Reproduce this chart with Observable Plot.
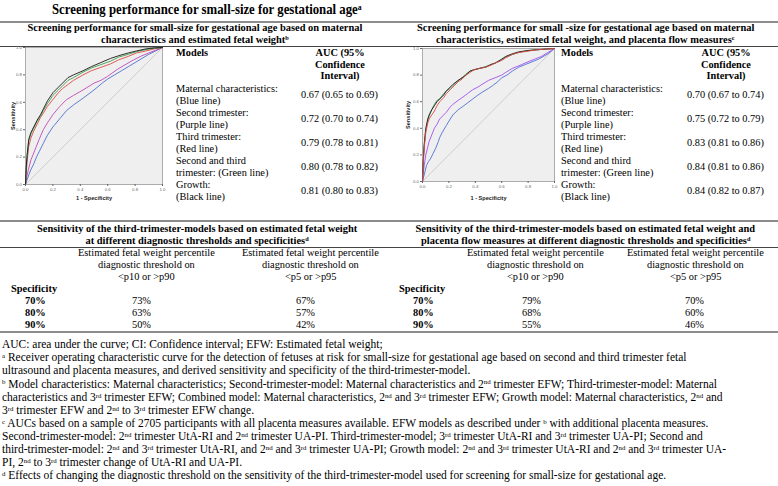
<!DOCTYPE html>
<html><head><meta charset="utf-8">
<script src="https://cdn.jsdelivr.net/npm/d3@7"></script>
<script src="https://cdn.jsdelivr.net/npm/@observablehq/plot@0.6"></script>
<style>
html,body{margin:0;padding:0;background:#fff;}
#page{position:relative;width:778px;height:486px;overflow:hidden;font-family:"Liberation Serif","Times New Roman",serif;color:#000;}
.t{position:absolute;white-space:nowrap;line-height:1;font-family:"Liberation Serif","Times New Roman",serif;transform-origin:0 50%;}
.b{font-weight:bold;}
.rule{position:absolute;left:0;width:778px;height:0;}
sup{font-size:0.6em;vertical-align:0;position:relative;top:-0.45em;line-height:0;}
.plot{position:absolute;}
.plot svg [aria-label="x-axis label"] text,.plot svg [aria-label="y-axis label"] text{font-weight:bold;font-size:5.6px;fill:#222;}
</style></head><body><div id="page"></div>
<script>
// ---------- DATA ----------
const titleText = "Screening performance for small-size for gestational age<sup>a</sup>";
const headerLeft = ["Screening performance for small-size for gestational age based on maternal",
  "characteristics and estimated fetal weight<sup>b</sup>"];
const headerRight = ["Screening performance for small -size for gestational age based on maternal",
  "characteristics, estimated fetal weight, and placenta flow measures<sup>c</sup>"];
const modelLabels = [["Maternal characteristics:","(Blue line)"],["Second trimester:","(Purple line)"],
  ["Third trimester:","(Red line)"],["Second and third","trimester: (Green line)"],["Growth:","(Black line)"]];
const aucHeader = ["AUC (95%","Confidence","Interval)"];
const aucLeft = ["0.67 (0.65 to 0.69)","0.72 (0.70 to 0.74)","0.79 (0.78 to 0.81)","0.80 (0.78 to 0.82)","0.81 (0.80 to 0.83)"];
const aucRight = ["0.70 (0.67 to 0.74)","0.75 (0.72 to 0.79)","0.83 (0.81 to 0.86)","0.84 (0.81 to 0.86)","0.84 (0.82 to 0.87)"];
const sensHeaderLeft = ["Sensitivity of the third-trimester-models based on estimated fetal weight",
  "at different diagnostic thresholds and specificities<sup>d</sup>"];
const sensHeaderRight = ["Sensitivity of the third-trimester-models based on estimated fetal weight and",
  "placenta flow measures at different diagnostic thresholds and specificities<sup>d</sup>"];
const thresholdCols = [["Estimated fetal weight percentile","diagnostic threshold on","&lt;p10 or &gt;p90"],
  ["Estimated fetal weight percentile","diagnostic threshold on","&lt;p5 or &gt;p95"]];
const specificities = ["70%","80%","90%"];
const sensLeftP10 = ["73%","63%","50%"];
const sensLeftP5 = ["67%","57%","42%"];
const sensRightP10 = ["79%","68%","55%"];
const sensRightP5 = ["70%","60%","46%"];
const footnotes = [
  "AUC: area under the curve; CI: Confidence interval; EFW: Estimated fetal weight;",
  "<sup>a</sup> Receiver operating characteristic curve for the detection of fetuses at risk for small-size for gestational age based on second and third trimester fetal",
  "ultrasound and placenta measures, and derived sensitivity and specificity of the third-trimester-model.",
  "<sup>b</sup> Model characteristics: Maternal characteristics; Second-trimester-model: Maternal characteristics and 2<sup>nd</sup> trimester EFW; Third-trimester-model: Maternal",
  "characteristics and 3<sup>rd</sup> trimester EFW; Combined model: Maternal characteristics, 2<sup>nd</sup> and 3<sup>rd</sup> trimester EFW; Growth model: Maternal characteristics, 2<sup>nd</sup> and",
  "3<sup>rd</sup> trimester EFW and 2<sup>nd</sup> to 3<sup>rd</sup> trimester EFW change.",
  "<sup>c</sup> AUCs based on a sample of 2705 participants with all placenta measures available. EFW models as described under <sup>b</sup> with additional placenta measures.",
  "Second-trimester-model: 2<sup>nd</sup> trimester UtA-RI and 2<sup>nd</sup> trimester UA-PI. Third-trimester-model; 3<sup>rd</sup> trimester UtA-RI and 3<sup>rd</sup> trimester UA-PI; Second and",
  "third-trimester-model: 2<sup>nd</sup> and 3<sup>rd</sup> trimester UtA-RI, and 2<sup>nd</sup> and 3<sup>rd</sup> trimester UA-PI; Growth model: 2<sup>nd</sup> and 3<sup>rd</sup> trimester UtA-RI and 2<sup>nd</sup> and 3<sup>rd</sup> trimester UA-",
  "PI, 2<sup>nd</sup> to 3<sup>rd</sup> trimester change of UtA-RI and UA-PI.",
  "<sup>d</sup> Effects of changing the diagnostic threshold on the sensitivity of the third-trimester-model used for screening for small-size for gestational age."
];

// ROC curves: [1 - specificity, sensitivity]
const diagonal = [0, 1];
const leftBlue = [[0,0],[0.01,0.03],[0.024,0.07],[0.04,0.11],[0.06,0.15],[0.08,0.2],[0.1,0.24],[0.13,0.3],[0.16,0.36],[0.2,0.42],[0.25,0.48],[0.3,0.54],[0.35,0.58],[0.42,0.63],[0.5,0.69],[0.56,0.74],[0.6,0.77],[0.65,0.8],[0.7,0.83],[0.75,0.86],[0.8,0.89],[0.85,0.92],[0.9,0.95],[0.95,0.975],[1,1]];
const leftPurple = [[0,0],[0.01,0.06],[0.024,0.12],[0.04,0.18],[0.06,0.23],[0.08,0.28],[0.1,0.33],[0.13,0.4],[0.16,0.45],[0.2,0.51],[0.25,0.57],[0.3,0.62],[0.35,0.65],[0.42,0.69],[0.5,0.74],[0.55,0.76],[0.6,0.79],[0.67,0.84],[0.72,0.87],[0.79,0.91],[0.85,0.94],[0.9,0.96],[0.95,0.98],[1,1]];
const leftRed = [[0,0],[0.005,0.08],[0.012,0.17],[0.024,0.28],[0.04,0.34],[0.06,0.39],[0.085,0.44],[0.11,0.49],[0.13,0.52],[0.16,0.57],[0.2,0.62],[0.24,0.67],[0.27,0.7],[0.31,0.73],[0.35,0.76],[0.42,0.8],[0.48,0.83],[0.55,0.855],[0.62,0.88],[0.68,0.91],[0.75,0.935],[0.81,0.96],[0.88,0.975],[0.94,0.99],[1,1]];
const leftGreen = [[0,0],[0.005,0.11],[0.012,0.21],[0.024,0.32],[0.04,0.37],[0.06,0.41],[0.085,0.46],[0.11,0.5],[0.13,0.54],[0.16,0.59],[0.2,0.65],[0.24,0.69],[0.27,0.72],[0.31,0.76],[0.35,0.78],[0.42,0.82],[0.48,0.85],[0.55,0.875],[0.62,0.9],[0.68,0.93],[0.75,0.95],[0.81,0.97],[0.88,0.985],[0.94,0.995],[1,1]];
const leftBlack = [[0,0],[0.005,0.12],[0.012,0.22],[0.024,0.33],[0.04,0.38],[0.06,0.42],[0.085,0.47],[0.11,0.51],[0.13,0.55],[0.16,0.61],[0.2,0.67],[0.24,0.71],[0.27,0.74],[0.31,0.78],[0.35,0.8],[0.42,0.83],[0.48,0.86],[0.55,0.89],[0.62,0.92],[0.68,0.94],[0.75,0.96],[0.81,0.975],[0.88,0.99],[0.94,0.997],[1,1]];
const rightBlue = [[0,0],[0.005,0.02],[0.013,0.05],[0.03,0.12],[0.045,0.15],[0.06,0.17],[0.08,0.21],[0.1,0.25],[0.12,0.3],[0.13,0.33],[0.15,0.37],[0.18,0.42],[0.21,0.47],[0.23,0.5],[0.27,0.54],[0.3,0.56],[0.34,0.59],[0.38,0.62],[0.42,0.65],[0.45,0.67],[0.5,0.7],[0.53,0.72],[0.57,0.75],[0.6,0.78],[0.64,0.8],[0.68,0.83],[0.73,0.86],[0.78,0.88],[0.83,0.9],[0.88,0.92],[0.95,0.96],[1,1]];
const rightPurple = [[0,0],[0.005,0.06],[0.013,0.12],[0.025,0.2],[0.04,0.26],[0.05,0.3],[0.07,0.35],[0.09,0.4],[0.11,0.43],[0.13,0.47],[0.16,0.5],[0.18,0.52],[0.21,0.56],[0.23,0.58],[0.27,0.61],[0.3,0.63],[0.34,0.66],[0.38,0.69],[0.42,0.71],[0.45,0.73],[0.5,0.76],[0.55,0.78],[0.6,0.8],[0.63,0.82],[0.68,0.85],[0.73,0.87],[0.8,0.9],[0.85,0.92],[0.9,0.94],[0.95,0.97],[1,1]];
const rightRed = [[0,0],[0.005,0.12],[0.013,0.25],[0.025,0.37],[0.04,0.44],[0.05,0.47],[0.07,0.5],[0.09,0.53],[0.11,0.57],[0.13,0.6],[0.16,0.63],[0.18,0.66],[0.21,0.69],[0.23,0.71],[0.27,0.75],[0.3,0.77],[0.33,0.8],[0.36,0.82],[0.39,0.84],[0.43,0.85],[0.48,0.86],[0.52,0.875],[0.55,0.89],[0.6,0.91],[0.63,0.93],[0.68,0.955],[0.73,0.97],[0.8,0.98],[0.86,0.99],[0.93,0.995],[1,1]];
const rightGreen = [[0,0],[0.005,0.14],[0.013,0.27],[0.025,0.39],[0.04,0.46],[0.05,0.49],[0.07,0.54],[0.09,0.58],[0.11,0.61],[0.13,0.62],[0.16,0.66],[0.18,0.68],[0.21,0.7],[0.23,0.72],[0.27,0.76],[0.3,0.78],[0.33,0.81],[0.36,0.83],[0.39,0.84],[0.43,0.85],[0.48,0.865],[0.52,0.88],[0.55,0.89],[0.6,0.915],[0.63,0.935],[0.68,0.955],[0.73,0.97],[0.8,0.985],[0.86,0.99],[0.93,0.995],[1,1]];
const rightBlack = [[0,0],[0.005,0.15],[0.013,0.28],[0.025,0.4],[0.04,0.47],[0.05,0.5],[0.07,0.54],[0.09,0.57],[0.11,0.6],[0.13,0.62],[0.16,0.65],[0.18,0.68],[0.21,0.71],[0.23,0.73],[0.27,0.76],[0.3,0.78],[0.33,0.8],[0.36,0.83],[0.39,0.84],[0.43,0.85],[0.48,0.86],[0.52,0.88],[0.55,0.89],[0.6,0.92],[0.63,0.94],[0.68,0.96],[0.73,0.975],[0.8,0.985],[0.86,0.99],[0.93,0.995],[1,1]];
const axisTicks = [0, 0.2, 0.4, 0.6, 0.8, 1.0];

// ---------- helpers ----------
const page = document.getElementById("page");
const MIN_SX = 0.88;   // the source typesetting is slightly condensed
function natWidth(html, size, bold) {
  const s = document.createElement("span");
  s.className = "t" + (bold ? " b" : "");
  s.style.fontSize = size + "px"; s.style.visibility = "hidden";
  s.innerHTML = html; page.appendChild(s);
  const w = s.offsetWidth; s.remove();
  return w;
}
// font that gives the target width; condensed up to MIN_SX but never taller than the line pitch allows
function fitBlock(html, target, bold, pitch) {
  const f1 = 100 * target / natWidth(html, 100, bold);
  const fmax = pitch * 0.96 / 1.107;
  const size = Math.min(f1 / MIN_SX, Math.max(f1, fmax));
  return {size, sx: f1 / size};
}
function put(html, x, y, fb, bold, anchor) {
  const s = document.createElement("div");
  s.className = "t" + (bold ? " b" : "");
  s.style.fontSize = fb.size + "px";
  s.innerHTML = html; page.appendChild(s);
  const w = s.offsetWidth * fb.sx;
  let left = x;
  if (anchor === "middle") left = x - w / 2; else if (anchor === "end") left = x - w;
  if (fb.sx !== 1) s.style.transform = "scaleX(" + fb.sx.toFixed(4) + ")";
  s.style.left = left + "px"; s.style.top = (y - fb.size / 2) + "px";
}
function rule(y, w, color) {
  const r = document.createElement("div"); r.className = "rule";
  r.style.top = (y - w / 2) + "px"; r.style.borderTop = w + "px solid " + color;
  page.appendChild(r);
}

// ---------- rules ----------
rule(21.5, 2, "#8c8c8c"); rule(46.5, 1.3, "#444"); rule(220.5, 2, "#8c8c8c");
rule(248, 1.3, "#444"); rule(332, 2, "#8c8c8c");

// ---------- text ----------
const fbTitle = fitBlock(titleText, 310, true, 20);
put(titleText, 207, 9.5, fbTitle, true, "middle");
const fbHead = fitBlock(headerLeft[0], 335, true, 12);
headerLeft.forEach((t, i) => put(t, 195, 28 + i * 12, fbHead, true, "middle"));
headerRight.forEach((t, i) => put(t, 585.5, 28 + i * 12, fbHead, true, "middle"));
sensHeaderLeft.forEach((t, i) => put(t, 197, 229 + i * 12, fbHead, true, "middle"));
sensHeaderRight.forEach((t, i) => put(t, 585.5, 229 + i * 12, fbHead, true, "middle"));

const fbTab = fitBlock(modelLabels[0][0], 102, false, 11.8);
[[176, 340, 301, aucLeft], [561, 726, 687, aucRight]].forEach(([xm, xa, xv, vals]) => {
  put("Models", xm, 53, fbTab, true, "start");
  aucHeader.forEach((t, i) => put(t, xa, 53 + i * 11.8, fbTab, true, "middle"));
  modelLabels.forEach((lab, i) => {
    put(lab[0], xm, 89 + i * 24, fbTab, false, "start");
    put(lab[1], xm, 101 + i * 24, fbTab, false, "start");
    put(vals[i], xv, 95 + i * 24, fbTab, false, "start");
  });
});

const fbSens = fitBlock(thresholdCols[0][0], 137, false, 12);
[[0, sensLeftP10, sensLeftP5, 141, 305, 146.5, 310.5], [388, sensRightP10, sensRightP5, 531, 694, 535, 695.5]]
  .forEach(([ox, c1, c2, v1, v2, h1, h2]) => {
    thresholdCols.forEach((col, ci) => col.forEach((t, i) => put(t, ci ? h2 : h1, 253 + i * 12, fbSens, false, "middle")));
    put("Specificity", ox + 11, 289, fbSens, true, "start");
    specificities.forEach((s, i) => {
      put(s, ox + 25, 301 + i * 12, fbSens, true, "start");
      put(c1[i], v1, 301 + i * 12, fbSens, false, "middle");
      put(c2[i], v2, 301 + i * 12, fbSens, false, "middle");
    });
  });

const fbFoot = fitBlock(footnotes[0], 381, false, 13.1);
footnotes.forEach((t, i) => put(t, 2, 345 + i * 13.1, fbFoot, false, "start"));

// ---------- ROC charts ----------
function roc(series, box) {
  const chart = Plot.plot({
    width: box.w, height: box.h,
    marginLeft: box.ml, marginRight: box.mr, marginTop: box.mt, marginBottom: box.mb,
    x: {domain: [0, 1]}, y: {domain: [0, 1]},
    style: {fontFamily: "'Liberation Sans', Arial, sans-serif", fontSize: "4.3px", color: "#666", background: "transparent", overflow: "visible"},
    marks: [
      Plot.frame({fill: "#efefef", stroke: "#9a9a9a", strokeWidth: 0.8}),
      Plot.line(diagonal, {x: d => d, y: d => d, stroke: "#c6c6c6", strokeWidth: 0.8}),
      ...series.map(s => Plot.line(s.pts, {x: d => d[0], y: d => d[1], stroke: s.color, strokeWidth: 0.9})),
      Plot.axisX({ticks: axisTicks, tickFormat: d3.format(".1f"), tickSize: 2, tickPadding: 1.5,
        label: "1 - Specificity", labelAnchor: "center", labelArrow: "none", labelOffset: box.lx}),
      Plot.axisY({ticks: axisTicks, tickFormat: d3.format(".1f"), tickSize: 2, tickPadding: 1.5,
        label: "Sensitivity", labelAnchor: "center", labelArrow: "none", labelOffset: box.ly})
    ]
  });
  const d = document.createElement("div"); d.className = "plot";
  d.style.left = box.x + "px"; d.style.top = box.y + "px";
  d.appendChild(chart); page.appendChild(d);
}
roc([
  {pts: leftBlue, color: "#4f6fd3"}, {pts: leftPurple, color: "#c04ab8"},
  {pts: leftRed, color: "#e04848"}, {pts: leftGreen, color: "#3f9f4a"}, {pts: leftBlack, color: "#1a1a1a"}
], {x: 0, y: 40, w: 168, h: 165, ml: 25, mr: 6, mt: 7, mb: 21, lx: 15, ly: 14});
roc([
  {pts: rightBlue, color: "#4f6fd3"}, {pts: rightPurple, color: "#a24ff0"},
  {pts: rightGreen, color: "#3f9f4a"}, {pts: rightBlack, color: "#1a1a1a"}, {pts: rightRed, color: "#e04848"}
], {x: 395, y: 40, w: 165, h: 165, ml: 27, mr: 6, mt: 8, mb: 24, lx: 18, ly: 16});
</script></body></html>
